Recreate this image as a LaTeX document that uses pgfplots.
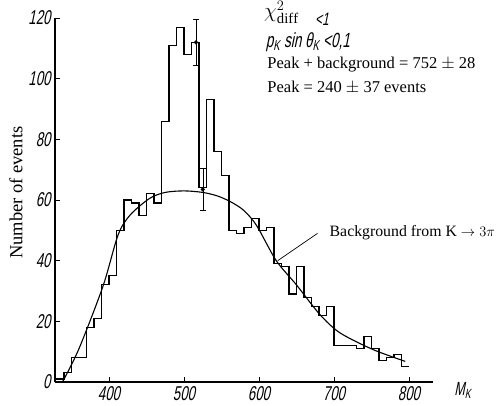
\documentclass[border=0pt]{standalone}
\usepackage{fontspec}
\setmainfont{Liberation Serif}
\newfontfamily\tickfont[FakeStretch=0.66,FakeSlant=0.2]{Liberation Sans}
\usepackage{pgfplots}
\pgfplotsset{compat=1.18}
\usepackage{pgfplotstable}

% histogram, 10 MeV bins (left edge, events)
\pgfplotstableread{
x y
330 1
340 3
350 8
360 8
370 18
380 21
390 32
400 35
410 50
420 60
430 59
440 55
450 62
460 59
470 86
480 111
490 117
500 108
510 112
520 64
530 93
540 76
550 68
560 50
570 49
580 51
590 54
600 50
610 51
620 39
630 38
640 29
650 38
660 28
670 25
680 22
690 25
700 12
710 12
720 12
730 11
740 15
750 11
760 7
770 8
780 9
790 5
800 5
}\histo

\begin{document}
\begin{tikzpicture}
\begin{axis}[
    scale only axis,
    width=378pt, height=364pt,
    xmin=328, xmax=832, ymin=0, ymax=120,
    axis x line*=bottom, axis y line*=left,
    axis line style={line width=1.2pt},
    xtick={400,500,600,700,800},
    ytick={0,20,40,60,80,100,120},
    tick align=inside,
    major tick length=5pt,
    tick style={line width=0.8pt, black},
    /pgf/number format/assume math mode=true,
    ticklabel style={font=\tickfont\fontsize{20}{20}\selectfont},
    yticklabel style={xshift=-1pt},
    xticklabel style={yshift=-1pt},
    ylabel={Number of events},
    ylabel style={at={(axis description cs:-0.103,0.52)}, rotate=0, anchor=center,
        font=\fontsize{18.5}{18.5}\selectfont},
    clip=false,
]
\addplot[const plot, line width=1.1pt] table {\histo};

\addplot[line width=1.1pt, smooth] coordinates {
    (338,0) (360,11) (392,31.6) (412,48.4) (428,55) (454,60.5) (475,62.5)
    (500,63) (525,62.5) (545,61.3) (563,59.3) (580,56.5) (597,51.5) (623,40)
    (650,32) (681,22.3) (708,16.2) (752,10.7) (795,6.8)
};

\addplot[only marks, mark=*, mark size=1.6pt, line width=0.9pt,
    error bars/.cd, y dir=both, y explicit,
    error mark options={rotate=90, mark size=3pt, line width=0.9pt}]
    coordinates {
    (516,112) +- (0,7.5)
    (525,63.5) +- (0,7)
};

\addplot[line width=0.7pt] coordinates {(625,40) (678,49)};

\node[anchor=base west, inner sep=0pt, font=\fontsize{21}{21}\selectfont] at (axis cs:606.7,120)
    {$\chi^2_{\mathrm{diff}}$};
\node[anchor=base west, inner sep=0pt, font=\tickfont\fontsize{18}{18}\selectfont] at (axis cs:674.7,117.5)
    {<1};
\node[anchor=base west, inner sep=0pt, font=\tickfont\fontsize{20.5}{20.5}\selectfont] at (axis cs:609,110.2)
    {p\textsubscript{K} sin θ\textsubscript{K} <0,1};
\node[anchor=base west, inner sep=0pt, font=\fontsize{16.5}{16.5}\selectfont] at (axis cs:611,103.5)
    {Peak + background = 752 $\pm$ 28};
\node[anchor=base west, inner sep=0pt, font=\fontsize{16.5}{16.5}\selectfont] at (axis cs:611,95.4)
    {Peak = 240 $\pm$ 37 events};
\node[anchor=west, inner sep=0pt, font=\fontsize{15.8}{15.8}\selectfont] at (axis cs:694,49.1)
    {Background from K $\rightarrow 3\pi$};
\node[font=\tickfont\fontsize{19}{19}\selectfont] at (axis description cs:1.079,-0.024)
    {M\textsubscript{K}};
\end{axis}
\pgfresetboundingbox
\path (-55pt,-23pt) rectangle (448pt,382pt);
\end{tikzpicture}
\end{document}
